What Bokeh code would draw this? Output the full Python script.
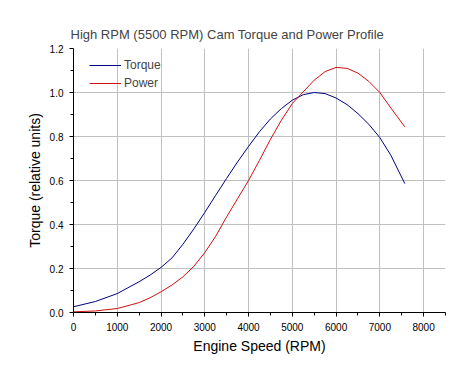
from bokeh.plotting import figure
from bokeh.models import Range1d, FixedTicker, Legend, LegendItem, NumeralTickFormatter
from bokeh.embed import file_html
from bokeh.resources import INLINE

rpm = [0, 500, 1000, 1500, 1750, 2000, 2250, 2500, 2750, 3000, 3250, 3500, 3750, 4000, 4250, 4500, 4750,
       5000, 5250, 5500, 5750, 6000, 6250, 6500, 6750, 7000, 7250, 7570]
torque = [0.026, 0.05, 0.086, 0.14, 0.17, 0.205, 0.248, 0.31, 0.38, 0.455, 0.533, 0.61, 0.685, 0.755, 0.822, 0.88, 0.927,
          0.965, 0.99, 1.0, 0.995, 0.975, 0.945, 0.904, 0.855, 0.795, 0.715, 0.586]
power = [0.003, 0.007, 0.018, 0.045, 0.067, 0.094, 0.125, 0.162, 0.21, 0.272, 0.347, 0.435, 0.518, 0.6, 0.692, 0.787, 0.874,
         0.95, 1.003, 1.056, 1.095, 1.114, 1.11, 1.088, 1.05, 1.0, 0.93, 0.844]

x_ticks = [0, 1000, 2000, 3000, 4000, 5000, 6000, 7000, 8000]
y_ticks = [0.0, 0.2, 0.4, 0.6, 0.8, 1.0, 1.2]

title_text = "High RPM (5500 RPM) Cam Torque and Power Profile"
x_label = "Engine Speed (RPM)"
y_label = "Torque (relative units)"

FONT = "Liberation Sans"

p = figure(width=465, height=377, output_backend="svg", toolbar_location=None,
           x_range=Range1d(0, 8500), y_range=Range1d(0, 1.2),
           min_border_left=73, min_border_right=20, min_border_top=48, min_border_bottom=65,
           title=title_text)
p.outline_line_color = None
p.background_fill_color = "white"
p.border_fill_color = "white"

p.title.text_font = FONT
p.title.text_font_size = "13px"
p.title.text_font_style = "normal"
p.title.align = "left"
p.title.offset = -3
p.title.standoff = 13

for ax in (p.xaxis[0], p.yaxis[0]):
    ax.axis_line_color = "black"
    ax.axis_line_width = 1
    ax.major_tick_line_color = "black"
    ax.minor_tick_line_color = "black"
    ax.major_tick_out = 4
    ax.major_tick_in = 0
    ax.minor_tick_out = 3
    ax.minor_tick_in = 0
    ax.major_label_text_font = FONT
    ax.major_label_text_font_size = "10px"
    ax.major_label_text_color = "black"
    ax.axis_label_text_font = FONT
    ax.axis_label_text_font_size = "14px"
    ax.axis_label_text_font_style = "normal"
    ax.axis_label_text_color = "black"

p.xaxis.ticker = FixedTicker(ticks=x_ticks, minor_ticks=[v + 500 for v in x_ticks])
p.yaxis.ticker = FixedTicker(ticks=y_ticks, minor_ticks=[round(v + 0.1, 1) for v in y_ticks[:-1]])
p.yaxis.formatter = NumeralTickFormatter(format="0.0")
p.xaxis.axis_label = x_label
p.yaxis.axis_label = y_label
p.xaxis.axis_label_standoff = 4
p.yaxis.axis_label_standoff = 4
p.xaxis.major_label_standoff = 6
p.yaxis.major_label_standoff = 6

p.xgrid.grid_line_color = "#c0c0c0"
p.ygrid.grid_line_color = "#c0c0c0"
p.xgrid.ticker = FixedTicker(ticks=x_ticks)
p.ygrid.ticker = FixedTicker(ticks=y_ticks[:-1])

r1 = p.line(rpm, torque, line_color="#000080", line_width=1)
r2 = p.line(rpm, power, line_color="#d01010", line_width=1)

legend = Legend(items=[LegendItem(label="Torque", renderers=[r1]),
                       LegendItem(label="Power", renderers=[r2])],
                location=(16, 220), margin=0, padding=0, spacing=0,
                glyph_width=32, glyph_height=18, label_standoff=3,
                label_text_font=FONT, label_text_font_size="12px",
                background_fill_alpha=0, border_line_color=None)
p.add_layout(legend, "center")

open("out.html", "w").write(file_html(p, INLINE))
